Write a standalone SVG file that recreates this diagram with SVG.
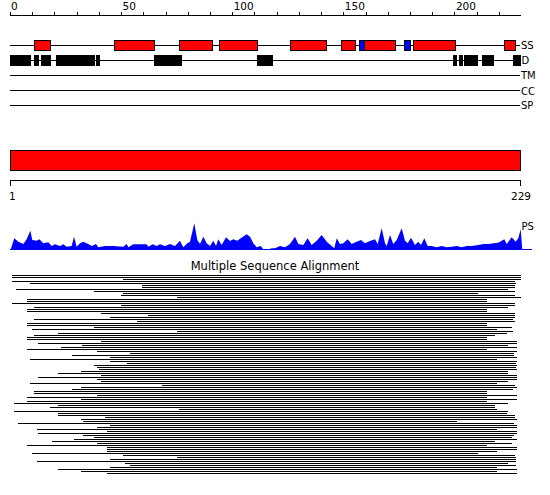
<svg xmlns="http://www.w3.org/2000/svg" width="550" height="495" viewBox="0 0 550 495">
<style>
.t{font-family:"DejaVu Sans","Liberation Sans",sans-serif;fill:#000}
.r{font-size:10.5px}
.l{font-size:10px}
.ln{stroke:#000;stroke-width:1;fill:none;shape-rendering:crispEdges}
.ss{fill:#ff0000;stroke:#000;stroke-width:1;shape-rendering:crispEdges}
.sb{fill:#0000ff;stroke:#000;stroke-width:1;shape-rendering:crispEdges}
.d{fill:#000;shape-rendering:crispEdges}
</style>
<rect width="550" height="495" fill="#fff"/>
<g id="ruler-top">
<path class="ln" d="M10.5 15.5H521 M10.5 12V16 M32.7 12V16 M54.9 12V16 M77.2 12V16 M99.4 12V16 M121.6 12V16 M143.8 12V16 M166 12V16 M188.3 12V16 M210.5 12V16 M232.7 12V16 M254.9 12V16 M277.2 12V16 M299.4 12V16 M321.6 12V16 M343.8 12V16 M366 12V16 M388.3 12V16 M410.5 12V16 M432.7 12V16 M454.9 12V16 M477.2 12V16 M499.4 12V16"/>
<text class="t r" x="11" y="9.5">0</text>
<text class="t r" x="122.6" y="9.5">50</text>
<text class="t r" x="233.7" y="9.5">100</text>
<text class="t r" x="344.8" y="9.5">150</text>
<text class="t r" x="455.9" y="9.5">200</text>
</g>
<g id="track-SS">
<path class="ln" d="M10 45.5H520"/>
<rect class="ss" x="34.5" y="40.5" width="16" height="10"/>
<rect class="ss" x="114.5" y="40.5" width="40" height="10"/>
<rect class="ss" x="179.5" y="40.5" width="33" height="10"/>
<rect class="ss" x="219.5" y="40.5" width="38" height="10"/>
<rect class="ss" x="290.5" y="40.5" width="36" height="10"/>
<rect class="ss" x="341.5" y="40.5" width="14" height="10"/>
<rect class="sb" x="359.5" y="40.5" width="5" height="10"/>
<rect class="ss" x="364.5" y="40.5" width="31" height="10"/>
<rect class="sb" x="404.5" y="40.5" width="6" height="10"/>
<rect class="ss" x="413.5" y="40.5" width="42" height="10"/>
<rect class="ss" x="504.5" y="40.5" width="11" height="10"/>
<text class="t l" x="521" y="49">SS</text>
</g>
<g id="track-D">
<path class="ln" d="M10 60.5H520"/>
<rect class="d" x="10" y="55" width="21" height="11"/>
<rect class="d" x="34" y="55" width="5" height="11"/>
<rect class="d" x="41" y="55" width="10" height="11"/>
<rect class="d" x="56" y="55" width="39" height="11"/>
<rect class="d" x="96" y="55" width="4" height="11"/>
<rect class="d" x="154" y="55" width="28" height="11"/>
<rect class="d" x="257" y="55" width="16" height="11"/>
<rect class="d" x="453" y="55" width="4" height="11"/>
<rect class="d" x="459" y="55" width="4" height="11"/>
<rect class="d" x="464" y="55" width="14" height="11"/>
<rect class="d" x="482" y="55" width="12" height="11"/>
<rect class="d" x="513" y="55" width="8" height="11"/>
<text class="t l" x="521.5" y="64">D</text>
</g>
<g id="track-TM">
<path class="ln" d="M10 75.5H520"/>
<text class="t l" x="521" y="79">TM</text>
</g>
<g id="track-CC">
<path class="ln" d="M10 90.5H520"/>
<text class="t l" x="521" y="94.5">CC</text>
</g>
<g id="track-SP">
<path class="ln" d="M10 105.5H520"/>
<text class="t l" x="521" y="109">SP</text>
</g>
<g id="domain-bar">
<rect class="ss" x="10.5" y="150.5" width="510" height="20"/>
</g>
<g id="ruler-bottom">
<path class="ln" d="M10.5 180.5H520.5 M10.5 180V186 M520.5 180V186"/>
<text class="t r" x="9" y="200">1</text>
<text class="t r" x="531" y="200" text-anchor="end">229</text>
</g>
<g id="track-PS">
<polygon fill="#0000ff" points="10.5,250 14.3,238.3 18.3,241.7 23.3,244 26.7,239.3 30.3,230.7 32.3,240 36.7,240.7 39.3,239.3 43.3,243.3 48.3,242.3 51.7,246 55,244.3 60,246 63.3,244.3 66.7,246.7 71.7,246 74,236.7 76.7,246.7 80,243.3 83.3,241.7 88.3,244 91.7,246 96,244 98.3,247.3 105,246 113.3,246 123.3,246.7 126.7,244 128.3,247.3 133.3,244.3 140,244.3 146.7,244.3 148.3,246.7 152.7,244.3 156.7,246 160,244.3 165,246 170,244 175,246 180,240.7 183.3,247.3 187.3,243.3 190,241.7 194.3,223.3 197.3,240 200,244 203.3,236.7 206.7,243.3 210,246 213.3,240.7 216,246 218.3,239.3 221.7,245 226,237.3 230,241 233.3,239.3 237.3,240.7 240.7,238.3 246.7,234.3 250,236.7 253.3,243.3 256.7,247.3 260.7,246 263.3,249.3 266.7,250 271.7,248.3 275,248.3 280,246 285,247.3 290,244 295,236.7 298.3,244 303.3,245 307.7,238.3 311.7,245 316.7,240.7 321.7,235 326.7,241.7 331.7,246 334.3,248.3 336.7,238.3 340,244 343.3,243.3 347.7,239.3 351.7,244 356.7,241.7 361,240 365,243.3 370,241 375,239.3 377.7,244 381.7,228.3 385,243.3 386.7,246 390,235 393.3,244 396.7,240 401.7,228.3 405,240.7 407.7,243.3 411,237.7 415,245 418.3,241.7 421,245 424.3,238.3 427.7,246 431.7,246 436.7,247.3 441.7,246 446.7,247.3 451.7,246.7 456.7,246 461.7,247.3 466.7,246 471.7,246 478.3,245 483.3,244 488.3,244 493.3,243.3 498.3,242.7 504.3,239.3 506.7,244 511.7,237.3 515.7,241.7 518.3,238.3 520.7,229.3 522.3,250"/>
<path d="M10 249.5H532" stroke="#0000ff" stroke-width="1" shape-rendering="crispEdges"/>
<text class="t l" x="521.5" y="229.5">PS</text>
</g>
<g id="alignment">
<text class="t" x="275" y="269.5" font-size="11.5" text-anchor="middle">Multiple Sequence Alignment</text>
<path class="ln" d="M12 275.5H521 M12 277.5H521 M123 279.5H521 M12 281.5H515 M30 283.5H516 M142 285.5H515 M142 287.5H515 M16 289.5H508 M94 291.5H515 M123 293.5H478 M121 295.5H515 M177 297.5H521 M27 299.5H487 M27 301.5H487 M12 303.5H515 M121 305.5H515 M34 307.5H508 M27 309.5H487 M27 311.5H487 M101 313.5H515 M148 315.5H515 M110 317.5H515 M34 319.5H513 M137 321.5H515 M27 323.5H487 M27 325.5H487 M94 327.5H512 M32 329.5H497 M177 331.5H513 M58 333.5H507 M34 335.5H495 M27 337.5H487 M27 339.5H487 M101 341.5H517 M38 343.5H517 M82 345.5H508 M61 347.5H517 M27 349.5H487 M97 351.5H517 M130 353.5H514 M72 355.5H514 M110 357.5H517 M30 359.5H497 M110 361.5H517 M127 363.5H516 M94 365.5H517 M97 367.5H516 M99 369.5H517 M81 371.5H508 M58 373.5H508 M101 375.5H517 M38 377.5H517 M97 379.5H517 M101 381.5H508 M30 383.5H497 M162 385.5H515 M81 387.5H517 M72 389.5H513 M34 391.5H487 M34 393.5H487 M97 395.5H517 M27 397.5H487 M81 399.5H517 M27 401.5H487 M14 403.5H508 M58 405.5H495 M50 407.5H495 M179 409.5H497 M14 411.5H508 M58 413.5H507 M58 415.5H515 M105 417.5H515 M81 419.5H517 M83 421.5H457 M18 423.5H514 M110 425.5H517 M97 427.5H517 M37 429.5H497 M107 431.5H517 M38 433.5H517 M83 435.5H514 M94 437.5H512 M74 439.5H517 M52 441.5H495 M97 443.5H512 M27 445.5H487 M107 447.5H517 M107 449.5H517 M107 451.5H497 M32 453.5H478 M123 455.5H515 M177 457.5H516 M110 459.5H516 M37 461.5H516 M125 463.5H508 M130 465.5H516 M110 467.5H497 M58 469.5H517 M81 471.5H497 M107 473.5H517"/>
</g>
</svg>
